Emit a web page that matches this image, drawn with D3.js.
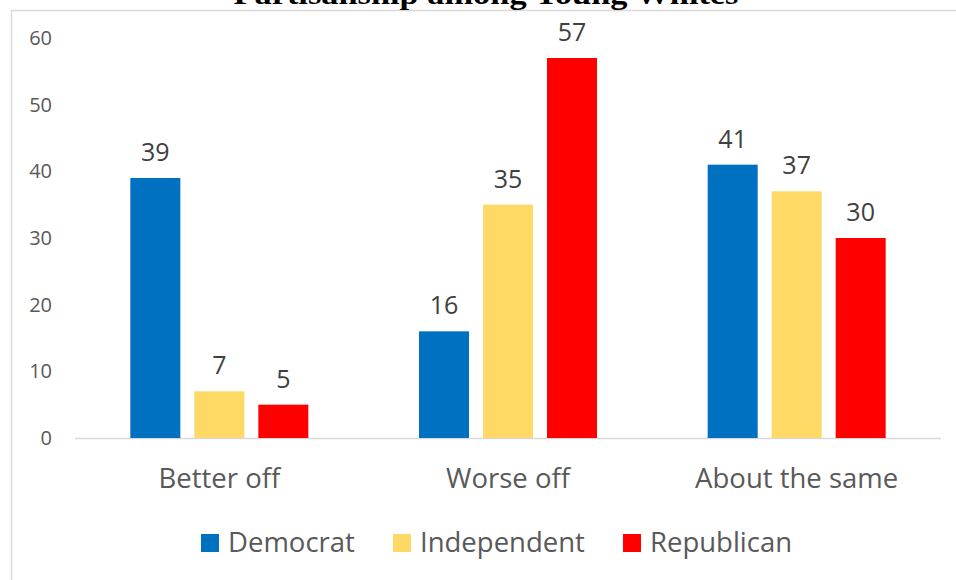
<!DOCTYPE html>
<html>
<head>
<meta charset="utf-8">
<script src="https://cdn.jsdelivr.net/npm/d3@7"></script>
<style>
  html, body { margin: 0; padding: 0; background: #fff; }
  svg { display: block; }
</style>
</head>
<body>
<svg id="chart" width="956" height="580"></svg>
<script>
// Survey responses by party
const categories = ["Better off", "Worse off", "About the same"];
const seriesNames = ["Democrat", "Independent", "Republican"];
const democrat = [39, 16, 41];
const independent = [7, 35, 37];
const republican = [5, 57, 30];
const yTicks = [0, 10, 20, 30, 40, 50, 60];
const colors = ["#0070c0", "#ffd966", "#ff0000"];
const title = "Partisanship among Young Whites";

const values = [democrat, independent, republican];
const font = "'Open Sans', sans-serif";

const svg = d3.select("#chart");

// Outer chart frame
svg.append("rect")
  .attr("x", 11.5).attr("y", 10.5)
  .attr("width", 1000).attr("height", 1000)
  .attr("fill", "none").attr("stroke", "#d9d9d9").attr("stroke-width", 1.5);

// Title
svg.append("text")
  .attr("x", 486).attr("y", 4)
  .attr("text-anchor", "middle")
  .attr("font-family", "'Liberation Serif', serif")
  .attr("font-weight", "bold")
  .attr("font-size", 30)
  .attr("textLength", 505)
  .attr("lengthAdjust", "spacingAndGlyphs")
  .attr("fill", "#000")
  .text(title);

const plot = { left: 75, right: 941, top: 38, bottom: 438 };

const y = d3.scaleLinear().domain([0, 60]).range([plot.bottom, plot.top]);

const groupFrac = 178 / (866 / 3);
const x0 = d3.scaleBand().domain(categories)
  .range([plot.left, plot.right])
  .paddingInner(1 - groupFrac).paddingOuter((1 - groupFrac) / 2);
const x1 = d3.scaleBand().domain(seriesNames)
  .range([0, x0.bandwidth()])
  .paddingInner(14 / 64).paddingOuter(0);

// Y axis labels (no line, no ticks)
const yAxis = d3.axisLeft(y).tickValues(yTicks).tickSize(0).tickPadding(0);
const yg = svg.append("g").attr("transform", `translate(52,0)`).call(yAxis);
yg.select(".domain").remove();
yg.selectAll("text")
  .attr("font-family", font).attr("font-size", 20).attr("fill", "#595959");

// Baseline
svg.append("line")
  .attr("x1", plot.left).attr("x2", plot.right)
  .attr("y1", y(0) + 0.5).attr("y2", y(0) + 0.5)
  .attr("stroke", "#d9d9d9").attr("stroke-width", 1.5);

// Bars and value labels
const groups = svg.append("g").selectAll("g")
  .data(categories)
  .join("g")
  .attr("transform", c => `translate(${x0(c)},0)`);

seriesNames.forEach((s, si) => {
  groups.append("rect")
    .attr("x", x1(s))
    .attr("y", (c, ci) => y(values[si][ci]))
    .attr("width", x1.bandwidth())
    .attr("height", (c, ci) => y(0) - y(values[si][ci]))
    .attr("fill", colors[si]);
  groups.append("text")
    .attr("x", x1(s) + x1.bandwidth() / 2)
    .attr("y", (c, ci) => y(values[si][ci]) - 17)
    .attr("text-anchor", "middle")
    .attr("font-family", font).attr("font-size", 25).attr("fill", "#404040")
    .text((c, ci) => values[si][ci]);
});

// Category labels
const xAxis = d3.axisBottom(x0).tickSize(0).tickPadding(0);
const xg = svg.append("g").attr("transform", `translate(0,488)`).call(xAxis);
xg.select(".domain").remove();
xg.selectAll("text")
  .attr("dy", 0)
  .attr("font-family", font).attr("font-size", 27.5).attr("fill", "#595959");

// Legend
const legendX = [201, 393, 623];
const legend = svg.append("g").selectAll("g")
  .data(seriesNames)
  .join("g")
  .attr("transform", (d, i) => `translate(${legendX[i]},534)`);
legend.append("rect")
  .attr("width", 18).attr("height", 18)
  .attr("fill", (d, i) => colors[i]);
legend.append("text")
  .attr("x", 27).attr("y", 18)
  .attr("font-family", font).attr("font-size", 27.5).attr("fill", "#595959")
  .text(d => d);
</script>
</body>
</html>
